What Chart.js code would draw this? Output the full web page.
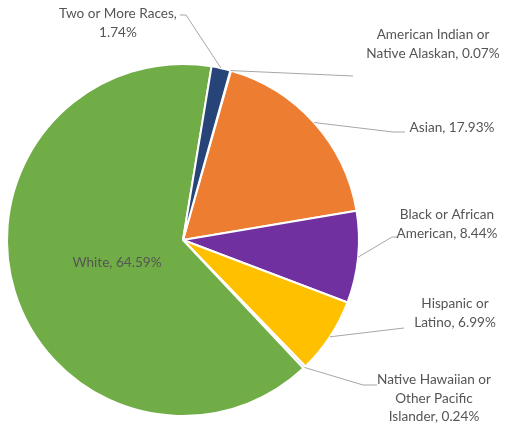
<!DOCTYPE html>
<html>
<head>
<meta charset="utf-8">
<script src="https://cdn.jsdelivr.net/npm/chart.js@4/dist/chart.umd.min.js"></script>
<style>
  body { margin: 0; background: #fff; }
  #wrap { width: 507px; height: 430px; }
</style>
</head>
<body>
<div id="wrap"><canvas id="raceChart"></canvas></div>
<script>
"use strict";

// race / ethnicity breakdown, percent of total
const categories = [
    'American Indian or Native Alaskan',
    'Asian',
    'Black or African American',
    'Hispanic or Latino',
    'Native Hawaiian or Other Pacific Islander',
    'White',
    'Two or More Races'
];
const percents = [0.07, 17.93, 8.44, 6.99, 0.24, 64.59, 1.74];
const sliceColors = ['#A5A5A5', '#ED7D31', '#7030A0', '#FFC000', '#BDD7EE', '#70AD47', '#264478'];

// where each label sits: center x, first line y, wrap width, leader elbow and tail
const labelLayout = [
    { cx: 433, y: 35, wrap: 145, elbow: [353, 76], tail: null },
    { cx: 452, y: 128, wrap: 200, elbow: [393, 132], tail: 405 },
    { cx: 447, y: 215, wrap: 108, elbow: [392, 237], tail: 398 },
    { cx: 455, y: 304, wrap: 85, elbow: [404, 328], tail: null },
    { cx: 434, y: 380, wrap: 115, elbow: [363, 385], tail: 377 },
    { cx: 117, y: 263, wrap: 200, inside: true },
    { cx: 118, y: 14, wrap: 130, elbow: [186, 15], tail: 180 }
];

const FONT = '13.6px Lato';
const LINE_H = 18.5;

function wrapText(ctx, text, maxWidth) {
    var words = text.split(' ');
    var lines = [];
    var cur = '';
    words.forEach(function (w) {
        var test = cur ? cur + ' ' + w : w;
        if (cur && ctx.measureText(test).width > maxWidth) {
            lines.push(cur);
            cur = w;
        } else {
            cur = test;
        }
    });
    if (cur) lines.push(cur);
    return lines;
}

const sliceLabels = {
    id: 'sliceLabels',
    afterDatasetsDraw(chart) {
        const ctx = chart.ctx;
        const meta = chart.getDatasetMeta(0);
        ctx.save();
        ctx.font = FONT;
        meta.data.forEach(function (arc, i) {
            const lay = labelLayout[i];
            const p = arc.getProps(['x', 'y', 'startAngle', 'endAngle', 'outerRadius'], true);
            const mid = (p.startAngle + p.endAngle) / 2;
            const text = chart.data.labels[i] + ', ' + chart.data.datasets[0].data[i].toFixed(2) + '%';

            if (!lay.inside) {
                const ex = p.x + Math.cos(mid) * p.outerRadius;
                const ey = p.y + Math.sin(mid) * p.outerRadius;
                ctx.strokeStyle = '#A6A6A6';
                ctx.lineWidth = 1;
                ctx.beginPath();
                ctx.moveTo(ex, ey);
                ctx.lineTo(lay.elbow[0], lay.elbow[1]);
                if (lay.tail !== null) ctx.lineTo(lay.tail, lay.elbow[1]);
                ctx.stroke();
            }

            ctx.fillStyle = '#555555';
            ctx.textAlign = 'center';
            ctx.textBaseline = 'middle';
            wrapText(ctx, text, lay.wrap).forEach(function (line, k) {
                ctx.fillText(line, lay.cx, lay.y + k * LINE_H);
            });
        });
        ctx.restore();
    }
};

const ctx = document.getElementById('raceChart').getContext('2d');
const raceChart = new Chart(ctx, {
    type: 'pie',
    data: {
        labels: categories,
        datasets: [{
            data: percents,
            backgroundColor: sliceColors,
            borderColor: '#FFFFFF',
            borderWidth: 2
        }]
    },
    options: {
        responsive: true,
        maintainAspectRatio: false,
        animation: false,
        rotation: 15.6,
        layout: { padding: { left: 6, right: 147, top: 63, bottom: 13 } },
        plugins: {
            legend: { display: false },
            tooltip: { enabled: false }
        }
    },
    plugins: [sliceLabels]
});
</script>
</body>
</html>
